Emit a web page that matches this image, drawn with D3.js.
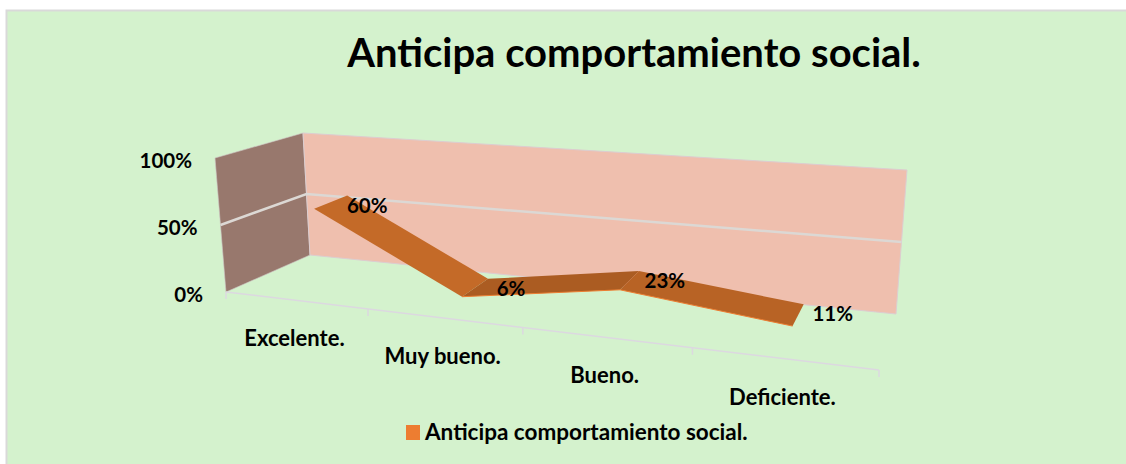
<!DOCTYPE html>
<html lang="en">
<head>
<meta charset="UTF-8">
<title>Anticipa comportamiento social.</title>
<script src="https://d3js.org/d3.v7.min.js"></script>
<style>
    html, body { margin: 0; padding: 0; background: #fff; overflow: hidden; }
    svg { display: block; }
    text { font-family: Lato, "Noto Sans", sans-serif; font-weight: 700; fill: #000; }
</style>
</head>
<body>
<svg width="1126" height="464"></svg>

<script>
    var title = "Anticipa comportamiento social.";
    var categories = ["Excelente.", "Muy bueno.", "Bueno.", "Deficiente."];
    var values = [60, 6, 23, 11];
    var valueTicks = [0, 50, 100];
    var segmentColors = ["#c46a28", "#ab5c22", "#b86325"];

    var svg = d3.select("svg"),
        width = +svg.attr("width"),
        height = +svg.attr("height");

    // the tilted box: u along categories, v up the value axis, w into the page
    var corners = {
        fbl: [226, 292], fbr: [879, 370], bbl: [310, 255], bbr: [896, 314],
        ftl: [215, 158], ftr: [893, 212], btl: [303, 133], btr: [907, 170]
    };

    var bandScale = d3.scaleBand().domain(categories).range([0, 1]);
    var valueScale = d3.scaleLinear().domain([0, 100]).range([0, 1]);

    // categories get wider toward the right of the box
    function stretch(t) {
        return t / (t + 1.2 * (1 - t));
    }

    function project(t, v, w) {
        var u = stretch(t);
        function mix(a, b, k) { return [a[0] + (b[0] - a[0]) * k, a[1] + (b[1] - a[1]) * k]; }
        var bottom = mix(mix(corners.fbl, corners.fbr, u), mix(corners.bbl, corners.bbr, u), w);
        var top = mix(mix(corners.ftl, corners.ftr, u), mix(corners.btl, corners.btr, u), w);
        return mix(bottom, top, v);
    }

    function catCenter(c) {
        return bandScale(c) + bandScale.bandwidth() / 2;
    }

    var ribbonFront = 0.3, ribbonBack = 0.72;
    var line = d3.line();

    svg.append("rect")
        .attr("x", 6.5).attr("y", 10.5)
        .attr("width", width).attr("height", height)
        .attr("fill", "#d4f2cd")
        .attr("stroke", "#d9d9d9")
        .attr("stroke-width", 2);

    svg.append("text")
        .attr("x", 634).attr("y", 67)
        .attr("text-anchor", "middle")
        .attr("font-size", 40)
        .text(title);

    // walls
    svg.append("path")
        .attr("d", line([project(0, 0, 0), project(0, 1, 0), project(0, 1, 1), project(0, 0, 1)]) + "Z")
        .attr("fill", "#98786d")
        .attr("stroke", "#cfc4c4")
        .attr("stroke-width", 0.6);

    svg.append("path")
        .attr("d", line([project(0, 0, 1), project(0, 1, 1), project(1, 1, 1), project(1, 0, 1)]) + "Z")
        .attr("fill", "#efbfae")
        .attr("stroke", "#dccdd0")
        .attr("stroke-width", 1);

    // gridline at 50%
    var gridVal = valueScale(valueTicks[1]);
    svg.append("path")
        .attr("d", line([project(0, gridVal, 0), project(0, gridVal, 1), project(1, gridVal, 1)]))
        .attr("fill", "none")
        .attr("stroke", "#dcd8d4")
        .attr("stroke-width", 2.5);

    // category axis on the floor edge
    svg.append("path")
        .attr("d", line([project(0, 0, 0), project(1, 0, 0)]))
        .attr("fill", "none")
        .attr("stroke", "#dcd8e0")
        .attr("stroke-width", 1.5);

    svg.selectAll(".tick")
        .data(d3.range(categories.length + 1))
        .enter().append("path")
        .attr("class", "tick")
        .attr("d", function (i) {
            var p = project(i / categories.length, 0, 0);
            return line([p, [p[0], p[1] + 7]]);
        })
        .attr("stroke", "#dcd8e0")
        .attr("stroke-width", 1.5);

    // one flat piece of ribbon per pair of neighbouring categories
    var segments = d3.pairs(categories.map(function (c, i) {
        return { t: catCenter(c), v: valueScale(values[i]) };
    }));

    svg.selectAll(".segment")
        .data(segments)
        .enter().append("path")
        .attr("class", "segment")
        .attr("d", function (d) {
            return line([
                project(d[0].t, d[0].v, ribbonFront),
                project(d[0].t, d[0].v, ribbonBack),
                project(d[1].t, d[1].v, ribbonBack),
                project(d[1].t, d[1].v, ribbonFront)
            ]) + "Z";
        })
        .attr("fill", function (d, i) { return segmentColors[i]; });

    svg.selectAll(".edge")
        .data(segments.slice(1))
        .enter().append("path")
        .attr("class", "edge")
        .attr("d", function (d) {
            return line([project(d[0].t, d[0].v, ribbonFront), project(d[1].t, d[1].v, ribbonFront)]);
        })
        .attr("fill", "none")
        .attr("stroke", "#ed7d31")
        .attr("stroke-width", 1);

    // value labels
    svg.selectAll(".data-label")
        .data(values)
        .enter().append("text")
        .attr("class", "data-label")
        .attr("x", function (d, i) { return project(catCenter(categories[i]), valueScale(d), ribbonBack)[0] + 20 + 3 * i; })
        .attr("y", function (d, i) { return project(catCenter(categories[i]), valueScale(d), ribbonBack)[1] + 17; })
        .attr("text-anchor", "middle")
        .attr("font-size", 20.5)
        .text(function (d) { return d + "%"; });

    // value axis labels
    svg.selectAll(".value-label")
        .data(valueTicks)
        .enter().append("text")
        .attr("class", "value-label")
        .attr("x", function (d) { return project(0, valueScale(d), 0)[0] - 23; })
        .attr("y", function (d) { return project(0, valueScale(d), 0)[1] + 10; })
        .attr("text-anchor", "end")
        .attr("font-size", 20.5)
        .text(function (d) { return d + "%"; });

    // category labels
    svg.selectAll(".cat-label")
        .data(categories)
        .enter().append("text")
        .attr("class", "cat-label")
        .attr("x", function (c) { return project(catCenter(c), 0, 0)[0] - 1; })
        .attr("y", function (c) { return project(catCenter(c), 0, 0)[1] + 46; })
        .attr("text-anchor", "middle")
        .attr("font-size", 22)
        .text(function (c) { return c; });

    // legend
    svg.append("rect")
        .attr("x", 406).attr("y", 425)
        .attr("width", 14).attr("height", 15)
        .attr("fill", "#ed7d31");

    svg.append("text")
        .attr("x", 425).attr("y", 440)
        .attr("font-size", 22.5)
        .text(title);
</script>
</body>
</html>
